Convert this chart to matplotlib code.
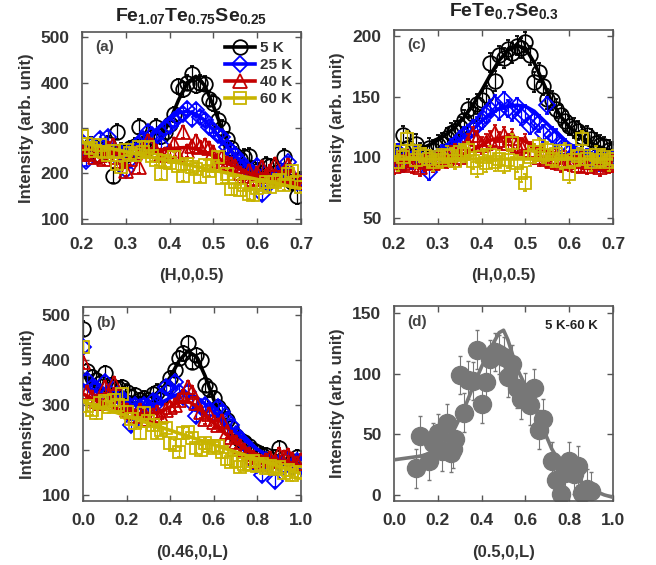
"""Neutron scattering scans for Fe(Te,Se): H and L cuts at several temperatures."""

import matplotlib
matplotlib.use("Agg")
import matplotlib.pyplot as plt
from matplotlib.lines import Line2D

plt.rcParams["font.family"] = ["Liberation Sans", "DejaVu Sans"]
plt.rcParams["font.weight"] = "bold"
plt.rcParams["axes.labelweight"] = "bold"
plt.rcParams["axes.titleweight"] = "bold"
plt.rcParams["mathtext.fontset"] = "custom"
plt.rcParams["mathtext.rm"] = "Liberation Sans:bold"
plt.rcParams["mathtext.bf"] = "Liberation Sans:bold"
plt.rcParams["mathtext.default"] = "bf"

TEMPS = ["5 K", "25 K", "40 K", "60 K"]

# scan positions
H_SCAN = [0.20, 0.21, 0.22, 0.23, 0.24, 0.25, 0.26, 0.27, 0.28, 0.29,
          0.30, 0.31, 0.32, 0.33, 0.34, 0.35, 0.36, 0.37, 0.38, 0.39,
          0.40, 0.41, 0.42, 0.43, 0.44, 0.45, 0.46, 0.47, 0.48, 0.49,
          0.50, 0.51, 0.52, 0.53, 0.54, 0.55, 0.56, 0.57, 0.58, 0.59,
          0.60, 0.61, 0.62, 0.63, 0.64, 0.65, 0.66, 0.67, 0.68, 0.69,
          0.70]
L_SCAN = [0.00, 0.02, 0.04, 0.06, 0.08, 0.10, 0.12, 0.14, 0.16, 0.18,
          0.20, 0.22, 0.24, 0.26, 0.28, 0.30, 0.32, 0.34, 0.36, 0.38,
          0.40, 0.42, 0.44, 0.46, 0.48, 0.50, 0.52, 0.54, 0.56, 0.58,
          0.60, 0.62, 0.64, 0.66, 0.68, 0.70, 0.72, 0.74, 0.76, 0.78,
          0.80, 0.82, 0.84, 0.86, 0.88, 0.90, 0.92, 0.94, 0.96, 0.98,
          1.00]
H_FIT = [0.20, 0.22, 0.24, 0.26, 0.28, 0.30, 0.32, 0.34, 0.36, 0.38,
         0.40, 0.42, 0.44, 0.46, 0.48, 0.50, 0.52, 0.54, 0.56, 0.58,
         0.60, 0.62, 0.64, 0.66, 0.68, 0.70]
L_FIT = [0.00, 0.04, 0.08, 0.12, 0.16, 0.20, 0.24, 0.28, 0.32, 0.36,
         0.40, 0.44, 0.48, 0.52, 0.56, 0.60, 0.64, 0.68, 0.72, 0.76,
         0.80, 0.84, 0.88, 0.92, 0.96, 1.00]

# (a) Fe1.07Te0.75Se0.25, (H,0,0.5)
A_5K = [250, 245, 262, 255, 240, 250, 265, 195, 292, 250,
        240, 255, 260, 303, 262, 255, 280, 303, 282, 292,
        308, 330, 392, 385, 400, 420, 395, 400, 398, 365,
        355, 318, 300, 275, 255, 240, 232, 236, 238, 210,
        205, 200, 218, 215, 200, 195, 236, 190, 180, 150,
        185]
A_25K = [270, 228, 262, 255, 276, 258, 280, 250, 235, 245,
         208, 230, 258, 265, 275, 291, 285, 280, 262, 300,
         305, 317, 324, 330, 342, 320, 339, 325, 318, 302,
         295, 285, 280, 258, 250, 240, 228, 215, 205, 200,
         217, 155, 185, 178, 190, 200, 205, 224, 190, 180,
         178]
A_40K = [248, 243, 252, 235, 240, 232, 255, 262, 236, 228,
         206, 232, 245, 213, 255, 272, 262, 250, 240, 242,
         250, 265, 240, 291, 250, 261, 272, 258, 262, 255,
         248, 228, 235, 222, 220, 215, 200, 195, 206, 188,
         200, 213, 195, 205, 220, 190, 200, 218, 195, 185,
         180]
A_60K = [283, 265, 256, 250, 262, 248, 240, 250, 221, 213,
         252, 245, 240, 258, 248, 258, 238, 230, 199, 228,
         222, 236, 215, 195, 220, 214, 210, 192, 218, 205,
         215, 236, 190, 198, 165, 180, 162, 175, 155, 151,
         168, 175, 180, 170, 181, 185, 175, 199, 206, 180,
         170]
A_FIT_5K = [255, 252, 249, 245, 242, 239, 239, 242, 253, 277, 315, 361, 400,
            414, 394, 348, 296, 251, 221, 203, 194, 188, 185, 182, 178, 175]
A_FIT_25K = [255, 252, 251, 249, 249, 253, 260, 272, 287, 305, 321, 333, 337,
             331, 317, 295, 272, 249, 229, 213, 201, 193, 187, 183, 178, 175]
A_FIT_40K = [255, 252, 249, 246, 243, 243, 243, 245, 247, 251, 254, 256, 257,
             254, 247, 238, 228, 218, 210, 201, 195, 190, 185, 182, 178, 175]
A_FIT_60K_X = [0.20, 0.70]
A_FIT_60K = [268, 166]

# (c) FeTe0.7Se0.3, (H,0,0.5)
C_5K = [100, 103, 118, 108, 105, 111, 104, 100, 108, 106,
        110, 112, 116, 120, 122, 125, 131, 140, 136, 144,
        147, 151, 178, 163, 184, 182, 189, 186, 192, 190,
        195, 184, 162, 170, 159, 148, 147, 140, 135, 130,
        126, 124, 122, 117, 118, 115, 112, 110, 109, 106,
        105]
C_25K = [98, 104, 95, 100, 97, 102, 99, 95, 88, 98,
         100, 103, 104, 108, 110, 115, 118, 120, 124, 126,
         130, 135, 140, 144, 138, 147, 140, 137, 142, 134,
         136, 126, 130, 128, 120, 143, 118, 116, 110, 108,
         104, 103, 101, 99, 100, 97, 98, 96, 99, 97,
         98]
C_40K = [93, 97, 95, 99, 94, 98, 92, 96, 99, 95,
         97, 100, 98, 102, 104, 100, 106, 112, 118, 115,
         110, 112, 115, 120, 114, 118, 112, 116, 110, 109,
         112, 106, 104, 100, 103, 99, 97, 100, 95, 98,
         96, 99, 94, 97, 93, 96, 95, 92, 96, 94,
         95]
C_60K = [104, 96, 100, 115, 105, 98, 103, 101, 99, 96,
         100, 98, 102, 101, 97, 104, 103, 106, 97, 91,
         100, 95, 102, 96, 99, 94, 98, 112, 95, 87,
         79, 100, 104, 109, 102, 106, 99, 103, 97, 105,
         86, 98, 101, 115, 99, 96, 102, 98, 100, 96,
         99]
C_FIT_5K = [103, 104, 105, 107, 110, 114, 119, 125, 133, 143, 155, 168, 180,
            188, 192, 190, 178, 162, 146, 134, 125, 119, 114, 110, 107, 105]
C_FIT_25K = [100, 100, 101, 102, 103, 105, 108, 112, 117, 123, 130, 136, 140,
             142, 143, 142, 138, 131, 124, 117, 111, 107, 104, 102, 101, 100]
C_FIT_40K = [97, 97, 98, 98, 98, 99, 100, 101, 103, 106, 110, 114, 116,
             117, 116, 113, 109, 106, 103, 101, 100, 99, 98, 98, 97, 97]
C_FIT_60K_X = [0.20, 0.70]
C_FIT_60K = [99, 99]

# (b) Fe1.07Te0.75Se0.25, (0.46,0,L)
B_5K = [470, 375, 362, 355, 350, 372, 345, 340, 338, 340,
        330, 318, 322, 312, 315, 312, 325, 330, 318, 340,
        360, 378, 405, 415, 437, 396, 412, 400, 345, 335,
        315, 295, 285, 268, 250, 232, 222, 218, 210, 200,
        195, 190, 189, 180, 185, 204, 182, 178, 175, 185,
        170]
B_25K = [430, 355, 340, 335, 330, 352, 330, 318, 325, 312,
         305, 255, 300, 295, 300, 295, 310, 305, 318, 340,
         335, 352, 330, 318, 330, 305, 275, 295, 300, 290,
         280, 295, 285, 268, 255, 235, 225, 215, 205, 175,
         168, 145, 178, 170, 132, 172, 165, 178, 160, 175,
         165]
B_40K = [395, 330, 318, 310, 305, 340, 320, 350, 300, 298,
         290, 285, 275, 290, 282, 270, 278, 285, 275, 290,
         295, 300, 312, 320, 340, 330, 305, 285, 270, 280,
         262, 255, 265, 240, 230, 218, 210, 200, 192, 185,
         175, 170, 178, 182, 175, 192, 185, 190, 180, 172,
         178]
B_60K = [430, 298, 290, 282, 305, 310, 295, 312, 300, 325,
         285, 270, 260, 237, 282, 265, 255, 238, 245, 250,
         215, 211, 196, 237, 240, 226, 205, 200, 215, 210,
         205, 210, 195, 180, 174, 175, 163, 170, 168, 175,
         165, 170, 160, 165, 158, 162, 150, 155, 144, 152,
         150]
B_FIT_5K = [370, 352, 338, 328, 322, 319, 317, 317, 320, 333, 362, 398, 420,
            408, 365, 312, 272, 248, 232, 218, 202, 190, 183, 177, 172, 168]
B_FIT_25K = [345, 335, 326, 318, 311, 305, 300, 298, 300, 306, 316, 325, 326,
             318, 302, 284, 266, 248, 232, 216, 202, 190, 182, 176, 171, 167]
B_FIT_40K = [325, 315, 306, 298, 291, 286, 282, 280, 281, 286, 296, 307, 309,
             298, 280, 260, 242, 225, 211, 199, 190, 183, 177, 172, 168, 165]
B_FIT_60K_X = [0.0, 1.0]
B_FIT_60K = [308, 148]

# (d) FeTe0.7Se0.3, (0.5,0,L), 5 K - 60 K difference
D_L = [0.10, 0.12, 0.16, 0.18, 0.20, 0.22, 0.24, 0.26, 0.27, 0.28,
       0.30, 0.32, 0.34, 0.36, 0.38, 0.40, 0.42, 0.44, 0.46, 0.48,
       0.50, 0.52, 0.54, 0.56, 0.58, 0.60, 0.62, 0.64, 0.66, 0.68,
       0.72, 0.74, 0.76, 0.78, 0.80, 0.82, 0.84, 0.86, 0.88, 0.90]
D_I = [22, 49, 28, 43, 51, 36, 59, 35, 38, 46,
       99, 68, 95, 94, 120, 75, 93, 112, 118, 116,
       114, 97, 108, 88, 79, 85, 74, 88, 54, 63,
       28, 12, 1, 18, 28, 17, 24, 2, 5, 3]
D_FIT_L = [0.00, 0.04, 0.08, 0.12, 0.16, 0.20, 0.24, 0.28, 0.32, 0.36,
           0.40, 0.44, 0.48, 0.50, 0.52, 0.56, 0.60, 0.64, 0.68, 0.72,
           0.76, 0.80, 0.84, 0.88, 0.92, 0.96, 1.00]
D_FIT_I = [29, 30, 31, 32, 34, 38, 45, 56, 71, 89,
           106, 121, 134, 136, 128, 105, 90, 74, 55, 38,
           26, 18, 12, 7, 3, 0, -2]

COLORS = ["#000000", "#0000ff", "#c40000", "#c8b400"]
MARKERS = ["o", "D", "^", "s"]
MSIZES = [10.5, 8.5, 10.0, 9.0]
TEXT = "#333333"
FRAME = "#555555"
GRAY = "#777777"


def style_axis(ax, xlim, ylim, xticks, yticks, xlabel, xfmt):
    ax.set_xlim(*xlim)
    ax.set_ylim(*ylim)
    ax.set_xticks(xticks)
    ax.set_xticklabels([xfmt.format(t) for t in xticks])
    ax.set_yticks(yticks)
    ax.tick_params(direction="in", top=True, right=True, length=4, width=1,
                   color=FRAME, labelsize=12.5, labelcolor=TEXT, pad=9)
    for sp in ax.spines.values():
        sp.set_color(FRAME)
        sp.set_linewidth(1.2)
    ax.set_xlabel(xlabel, fontsize=12, color=TEXT, labelpad=12,
                  fontweight="bold")
    ax.set_ylabel("Intensity (arb. unit)", fontsize=12, color=TEXT, labelpad=5,
                  fontweight="bold")


def draw_scans(ax, x, data, errs, fits):
    for i, (y, err, (fx, fy)) in enumerate(zip(data, errs, fits)):
        c = COLORS[i]
        ax.errorbar(x, y, yerr=err, fmt=MARKERS[i], color=c, mfc="none",
                    mec=c, ms=MSIZES[i], mew=1.3, elinewidth=0.9, capsize=1.5,
                    zorder=2 + i)
        ax.plot(fx, fy, color=c, lw=2.6, zorder=2.5 + i)


fig = plt.figure(figsize=(6.56, 5.65), dpi=100)
ax_a = fig.add_axes([0.125, 0.6035, 0.334, 0.340])
ax_c = fig.add_axes([0.6006, 0.6035, 0.334, 0.3435])
ax_b = fig.add_axes([0.1265, 0.1133, 0.3323, 0.3433])
ax_d = fig.add_axes([0.6006, 0.1133, 0.334, 0.3451])

draw_scans(ax_a, H_SCAN, [A_5K, A_25K, A_40K, A_60K], [17, 13, 13, 12],
           [(H_FIT, A_FIT_5K), (H_FIT, A_FIT_25K), (H_FIT, A_FIT_40K),
            (A_FIT_60K_X, A_FIT_60K)])
style_axis(ax_a, (0.2, 0.7), (88, 512), [0.2, 0.3, 0.4, 0.5, 0.6, 0.7],
           [100, 200, 300, 400, 500], "(H,0,0.5)", "{:.1f}")
ax_a.set_title(r"Fe$_{1.07}$Te$_{0.75}$Se$_{0.25}$", fontsize=14,
               color="#222222", fontweight="bold", pad=8)

draw_scans(ax_c, H_SCAN, [C_5K, C_25K, C_40K, C_60K], [8, 7, 7, 7],
           [(H_FIT, C_FIT_5K), (H_FIT, C_FIT_25K), (H_FIT, C_FIT_40K),
            (C_FIT_60K_X, C_FIT_60K)])
style_axis(ax_c, (0.2, 0.7), (45, 205), [0.2, 0.3, 0.4, 0.5, 0.6, 0.7],
           [50, 100, 150, 200], "(H,0,0.5)", "{:.1f}")
ax_c.set_title(r"FeTe$_{0.7}$Se$_{0.3}$", fontsize=14, color="#222222",
               fontweight="bold", pad=10)

draw_scans(ax_b, L_SCAN, [B_5K, B_25K, B_40K, B_60K], [16, 13, 13, 12],
           [(L_FIT, B_FIT_5K), (L_FIT, B_FIT_25K), (L_FIT, B_FIT_40K),
            (B_FIT_60K_X, B_FIT_60K)])
style_axis(ax_b, (0.0, 1.0), (87, 518), [0.0, 0.2, 0.4, 0.6, 0.8, 1.0],
           [100, 200, 300, 400, 500], "(0.46,0,L)", "{:.1f}")

ax_d.errorbar(D_L, D_I, yerr=16, fmt="o", color=GRAY, mfc=GRAY, mec=GRAY,
              ms=13, elinewidth=0.8, capsize=1.5, zorder=2)
ax_d.plot(D_FIT_L, D_FIT_I, color=GRAY, lw=2.6, zorder=3)
style_axis(ax_d, (0.0, 1.0), (-5, 156), [0.0, 0.2, 0.4, 0.6, 0.8, 1.0],
           [0, 50, 100, 150], "(0.5,0,L)", "{:.1f}")
ax_d.text(0.93, 0.9, "5 K-60 K", transform=ax_d.transAxes, ha="right",
          va="center", fontsize=9.5, color="#222222", fontweight="bold")

for ax, lab in [(ax_a, "(a)"), (ax_c, "(c)"), (ax_b, "(b)"), (ax_d, "(d)")]:
    ax.text(0.06, 0.92, lab, transform=ax.transAxes, ha="left", va="center",
            fontsize=11, color="#444444", fontweight="bold")

handles = [Line2D([], [], color=COLORS[i], marker=MARKERS[i], mfc="none",
                  mec=COLORS[i], ms=MSIZES[i], mew=1.3, lw=2.6)
           for i in range(4)]
ax_a.legend(handles, TEMPS, loc="upper right", frameon=False,
            prop={"size": 11, "weight": "bold"}, handlelength=2.0,
            handletextpad=0.3, labelspacing=0.2, borderaxespad=0.2,
            labelcolor=TEXT)

fig.savefig("out.png", dpi=100)
plt.close(fig)
